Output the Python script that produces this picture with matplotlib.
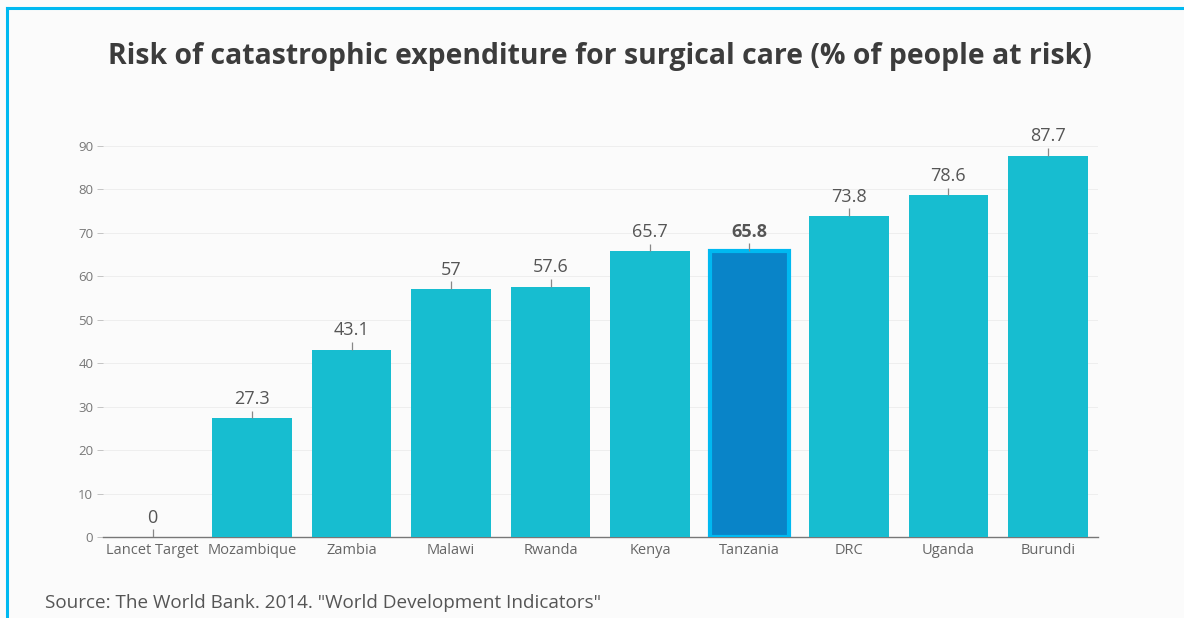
import matplotlib.pyplot as plt
from matplotlib.lines import Line2D

plt.rcParams['font.family'] = ['Open Sans', 'DejaVu Sans']

# data
countries = ["Lancet Target", "Mozambique", "Zambia", "Malawi", "Rwanda",
             "Kenya", "Tanzania", "DRC", "Uganda", "Burundi"]
values = [0, 27.3, 43.1, 57, 57.6, 65.7, 65.8, 73.8, 78.6, 87.7]
labels = ["0", "27.3", "43.1", "57", "57.6", "65.7", "65.8", "73.8", "78.6", "87.7"]
highlight = "Tanzania"

bar_color = "#17bdd0"
hi_color = "#0984c8"
hi_edge = "#00b9f1"
bg = "#fbfbfb"

fig = plt.figure(figsize=(11.84, 6.18), dpi=100, facecolor=bg)
ax = fig.add_axes([0.087, 0.131, 0.840, 0.647], facecolor=bg)

x = list(range(len(countries)))
colors = [hi_color if c == highlight else bar_color for c in countries]
bars = ax.bar(x, values, width=0.8, color=colors, zorder=3)
for b, c in zip(bars, countries):
    if c == highlight:
        b.set_edgecolor(hi_edge)
        b.set_linewidth(3)

# little marker lines above bars and value labels
ax.vlines(x, values, [v + 1.8 for v in values], color="#888888", lw=0.9, zorder=4)
for xi, v, lab, c in zip(x, values, labels, countries):
    ax.text(xi, v + 2.4, lab, ha="center", va="bottom", fontsize=13,
            color="#555555", fontweight="bold" if c == highlight else "normal")

ax.set_xlim(-0.5, 9.5)
ax.set_ylim(0, 92)
ax.set_yticks(range(0, 91, 10))
ax.set_xticks(x)
ax.set_xticklabels(countries)
ax.tick_params(axis="x", length=0, pad=4, labelsize=10.5, labelcolor="#666666")
ax.tick_params(axis="y", length=4, width=0.6, color="#bbbbbb", pad=3,
               labelsize=9.5, labelcolor="#777777")
ax.grid(axis="y", color="#eeeeee", lw=0.7, zorder=0)
for s in ["top", "right", "left"]:
    ax.spines[s].set_visible(False)
ax.spines["bottom"].set_color("#777777")
ax.spines["bottom"].set_linewidth(1.0)

fig.text(0.507, 0.908, "Risk of catastrophic expenditure for surgical care (% of people at risk)",
         ha="center", va="center", fontsize=20.4, fontweight="bold", color="#3c3c3c")
fig.text(0.038, 0.024, 'Source: The World Bank. 2014. "World Development Indicators"',
         ha="left", va="center", fontsize=13.6, color="#555555")

# cyan frame on top and left
fig.add_artist(Line2D([0.006, 1.0], [0.987, 0.987], color=hi_edge, lw=2.2,
                      transform=fig.transFigure))
fig.add_artist(Line2D([0.006, 0.006], [0.0, 0.987], color=hi_edge, lw=2.2,
                      transform=fig.transFigure))

fig.savefig("out.png", dpi=100, facecolor=bg)
